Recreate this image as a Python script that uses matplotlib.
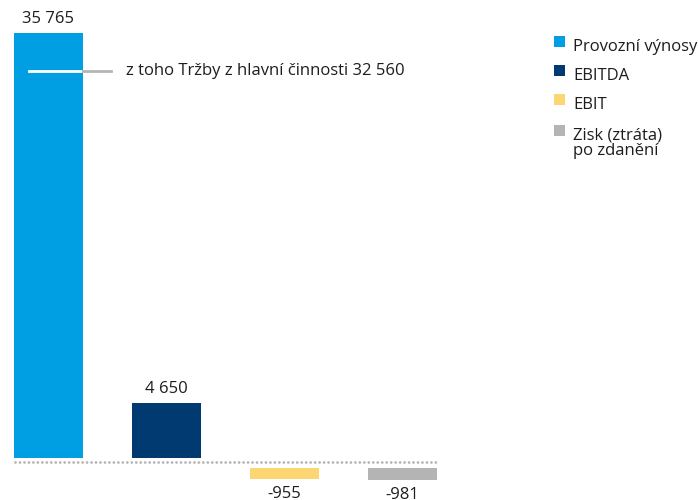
import matplotlib
matplotlib.use("Agg")
import matplotlib.pyplot as plt
from matplotlib.patches import Rectangle

categories = ["Provozní výnosy", "EBITDA", "EBIT", "Zisk (ztráta)\npo zdanění"]
values = [35765, 4650, -955, -981]
value_labels = ["35 765", "4 650", "-955", "-981"]
colors = ["#009FE3", "#003A70", "#FCD672", "#B4B4B5"]
sub_value = 32560
sub_label = "z toho Tržby z hlavní činnosti 32 560"

plt.rcParams["font.family"] = ["Open Sans", "DejaVu Sans"]
text_color = "#1d1d1b"
fs = 12

W, H = 698, 500
fig = plt.figure(figsize=(W / 100, H / 100), dpi=100)

# axes covering the left part of the figure; pixel scale chosen so the tallest bar fills it
px_per_unit = 425 / 35765
zero_px = 462          # zero line, pixels from the top
ax_w_px = 440
ax = fig.add_axes([0, 0, ax_w_px / W, 1])
spacing = 118
x0 = 48.5
ax.set_xlim(-x0 / spacing, (ax_w_px - x0) / spacing)
ax.set_ylim(-(H - zero_px) / px_per_unit, zero_px / px_per_unit)
ax.axis("off")

pos_gap = 4 / px_per_unit
neg_gap = 6 / px_per_unit
width = 69 / spacing
xs = list(range(len(values)))
for x, v, c, lab in zip(xs, values, colors, value_labels):
    if v >= 0:
        ax.bar(x, v, width=width, bottom=pos_gap, color=c, linewidth=0)
        ax.annotate(lab, (x, v + pos_gap), xytext=(0, 4), textcoords="offset points",
                    ha="center", va="bottom", fontsize=fs, color=text_color)
    else:
        ax.bar(x, v, width=width, bottom=-neg_gap, color=c, linewidth=0)
        ax.annotate(lab, (x, v - neg_gap), xytext=(0, -5), textcoords="offset points",
                    ha="center", va="top", fontsize=fs, color=text_color)

# dotted zero line
ax.plot([15 / spacing - x0 / spacing, (438 - x0) / spacing], [0, 0],
        color="#B4B4B5", linestyle=(0, (0.01, 1.6)), linewidth=2.0,
        dash_capstyle="round")

# marker for the sub-value inside the first bar
y_sub = sub_value + pos_gap
left = -width / 2
ax.plot([left + 15 / spacing, width / 2], [y_sub, y_sub], color="white", linewidth=2)
ax.plot([width / 2, width / 2 + 28 / spacing], [y_sub, y_sub], color="#B4B4B5", linewidth=2)
ax.annotate(sub_label, (width / 2 + 43 / spacing, y_sub), ha="left", va="center",
            fontsize=fs, color=text_color)

# legend
leg_y = [42, 71, 100, 131]
for lab, c, y in zip(categories, colors, leg_y):
    fig.add_artist(Rectangle((554 / W, 1 - (y + 5) / H), 11 / W, 11 / H,
                             transform=fig.transFigure, color=c, linewidth=0))
    fig.text(573 / W, 1 - (y - 3) / H, lab, ha="left", va="top", fontsize=fs,
             color=text_color, linespacing=0.9)

fig.savefig("out.png", dpi=100, facecolor="white")
